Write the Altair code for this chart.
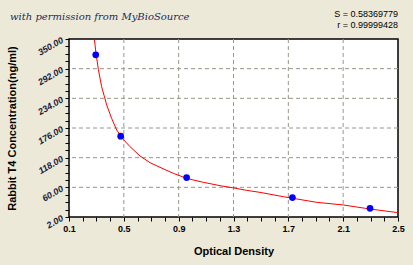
import altair as alt
import pandas as pd

# Standard points (optical density, concentration)
od_points = [0.295, 0.477, 0.958, 1.73, 2.296]
conc_points = [319, 160, 79, 40, 19]

# Fitted curve
curve_od = [0.28, 0.297, 0.314, 0.338, 0.375, 0.411, 0.448, 0.496, 0.545, 0.618,
            0.691, 0.764, 0.861, 0.958, 1.08, 1.201, 1.299, 1.396, 1.493, 1.663,
            1.907, 2.101, 2.296, 2.5]
curve_conc = [362, 322, 290.7, 256.8, 221, 194.9, 172, 153.8, 139.5, 121.3,
              108.2, 99.1, 87.4, 77.6, 69.8, 63.3, 59, 54.1, 50.2, 41.7,
              30.7, 25.5, 17.6, 10.5]

x_major = [0.1, 0.5, 0.9, 1.3, 1.7, 2.1, 2.5]
y_major = [2, 60, 118, 176, 234, 292, 350]

header_text = "with permission from MyBioSource"
stat_lines = ["S = 0.58369779", "r = 0.99999428"]


def with_minor(majors, n=4):
    out = []
    for a, b in zip(majors[:-1], majors[1:]):
        for k in range(n):
            out.append(round(a + (b - a) * k / n, 4))
    out.append(majors[-1])
    return out


x_all = with_minor(x_major)
y_all = with_minor(y_major)

pts = pd.DataFrame({"od": od_points, "conc": conc_points})
curve = pd.DataFrame({"od": curve_od, "conc": curve_conc})
xgrid = pd.DataFrame({"od": x_major[1:-1]})
ygrid = pd.DataFrame({"conc": y_major[1:-1]})

x_major_test = " || ".join(f"abs(datum.value - {v}) < 0.001" for v in x_major)
y_major_test = " || ".join(f"abs(datum.value - {v}) < 0.01" for v in y_major)

x_scale = alt.Scale(domain=[0.1, 2.5], nice=False, zero=False)
y_scale = alt.Scale(domain=[2, 350], nice=False, zero=False)

x_axis = alt.Axis(
    title="Optical Density",
    values=x_all,
    labelExpr=f"({x_major_test}) ? format(datum.value, '.1f') : ''",
    labelOverlap=False, labelFlush=False,
    labelFont="Liberation Sans", labelFontSize=9, labelFontWeight="bold",
    labelColor="#000000", labelPadding=3,
    titleFont="Liberation Sans", titleFontSize=11, titleFontWeight="bold",
    titleColor="#000000", titlePadding=12,
    tickSize=4, tickColor="#000000", domain=False, grid=False,
)
y_axis = alt.Axis(
    title="Rabbit T4 Concentration(ng/ml)",
    values=y_all,
    labelExpr=f"({y_major_test}) ? format(datum.value, '.2f') : ''",
    labelOverlap=False, labelFlush=False,
    labelAngle=330, labelAlign="right", labelBaseline="middle",
    labelFont="Liberation Sans", labelFontSize=9, labelFontWeight="bold",
    labelFontStyle="italic",
    labelColor="#1a1a40", labelPadding=3,
    titleFont="Liberation Sans", titleFontSize=11, titleFontWeight="bold",
    titleColor="#000000", titleX=-52, titleY=89,
    tickSize=4, tickColor="#000000", domain=False, grid=False,
)

grid_style = dict(color="#9a968a", strokeDash=[4, 3], strokeWidth=1)
vgrid = alt.Chart(xgrid).mark_rule(**grid_style).encode(
    x=alt.X("od:Q", scale=x_scale, axis=x_axis)
)
hgrid = alt.Chart(ygrid).mark_rule(**grid_style).encode(
    y=alt.Y("conc:Q", scale=y_scale, axis=y_axis)
)

line = alt.Chart(curve).mark_line(color="#ff0000", strokeWidth=1, clip=True).encode(
    x=alt.X("od:Q", scale=x_scale, axis=x_axis),
    y=alt.Y("conc:Q", scale=y_scale, axis=y_axis),
)
points = alt.Chart(pts).mark_circle(color="#0000ff", size=45, opacity=1).encode(
    x=alt.X("od:Q", scale=x_scale, axis=x_axis),
    y=alt.Y("conc:Q", scale=y_scale, axis=y_axis),
)

header = alt.Chart(pd.DataFrame({"t": [header_text]})).mark_text(
    font="DejaVu Serif", fontStyle="italic", fontSize=10, color="#1c2a5c",
    align="left", baseline="middle",
).encode(x=alt.value(-59), y=alt.value(-22), text="t:N")

stat1 = alt.Chart(pd.DataFrame({"t": [stat_lines[0]]})).mark_text(
    font="Liberation Sans", fontSize=9, color="#000000",
    align="right", baseline="middle",
).encode(x=alt.value(329), y=alt.value(-25), text="t:N")
stat2 = alt.Chart(pd.DataFrame({"t": [stat_lines[1]]})).mark_text(
    font="Liberation Sans", fontSize=9, color="#000000",
    align="right", baseline="middle",
).encode(x=alt.value(329), y=alt.value(-14), text="t:N")

chart = alt.layer(vgrid, hgrid, line, points, header, stat1, stat2).properties(
    width=329, height=178,
    background="#ECE9D8",
    autosize=alt.AutoSizeParams(type="none"),
    padding={"left": 69, "top": 39, "right": 15, "bottom": 48},
).configure_view(
    fill="#ffffff", stroke="#000000", strokeWidth=1.5,
).configure_axis(
    labelOverlap=False,
)

chart.save("out.html", embed_options={"renderer": "svg", "actions": False})
